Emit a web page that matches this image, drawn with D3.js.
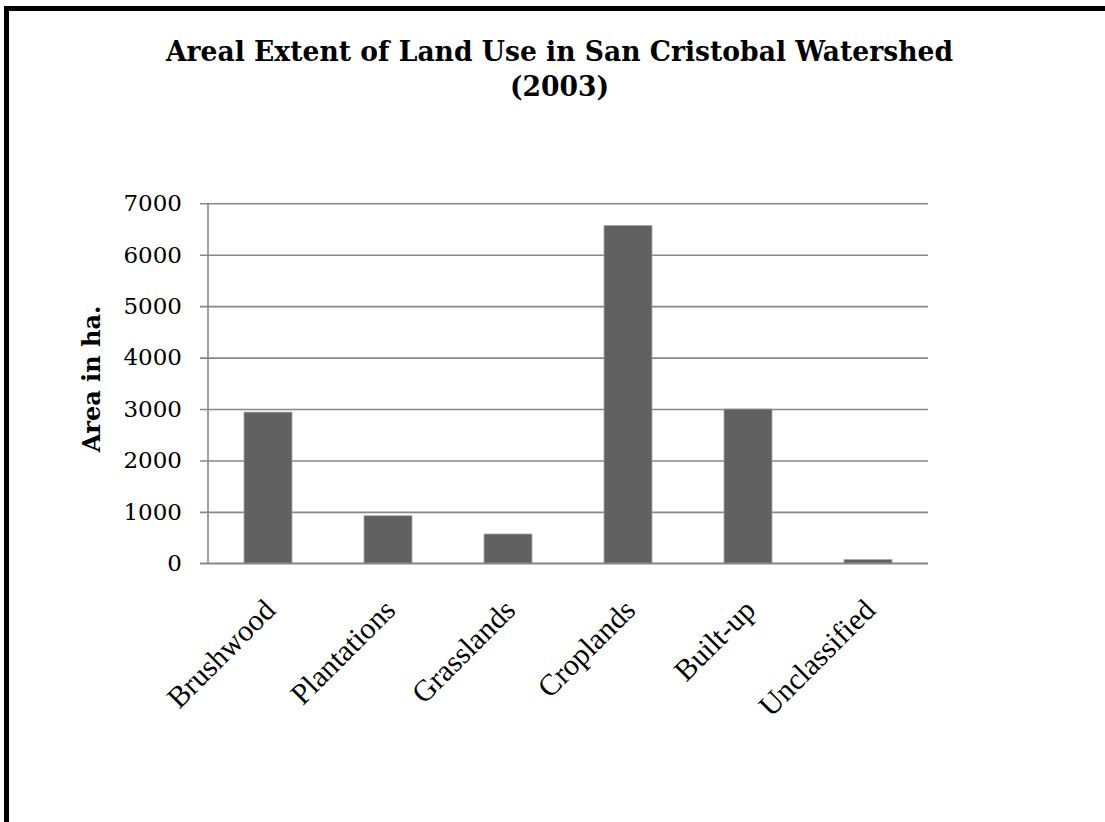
<!DOCTYPE html>
<html>
<head>
<meta charset="utf-8">
<script src="https://cdn.jsdelivr.net/npm/d3@7"></script>
<style>
  html, body { margin: 0; padding: 0; background: #fff; }
  svg { display: block; }
</style>
</head>
<body>
<svg id="chart" width="1105" height="822"></svg>
<script>
// Land use categories and their areal extent (hectares), 2003
const categories = ["Brushwood", "Plantations", "Grasslands", "Croplands", "Built-up", "Unclassified"];
const areaHa = [2940, 925, 570, 6570, 3000, 72];
const yTicks = [0, 1000, 2000, 3000, 4000, 5000, 6000, 7000];

const titleLines = ["Areal Extent of Land Use in San Cristobal Watershed", "(2003)"];
const yAxisTitle = "Area in ha.";

const serif = "'DejaVu Serif', 'Liberation Serif', serif";
const labelSerif = "'Liberation Serif', 'DejaVu Serif', serif";

const svg = d3.select("#chart");

// outer frame (top and left edges)
svg.append("path")
  .attr("d", "M6.5,822 L6.5,8.5 L1105,8.5")
  .attr("fill", "none")
  .attr("stroke", "#000")
  .attr("stroke-width", 5);

const plot = { left: 208, right: 928, top: 203.3, bottom: 563.3 };

const x = d3.scaleBand()
  .domain(categories)
  .range([plot.left, plot.right])
  .paddingInner(0.6)
  .paddingOuter(0.3);

const y = d3.scaleLinear()
  .domain([0, 7000])
  .range([plot.bottom, plot.top]);

// horizontal gridlines with short tick stubs to the left
const yAxis = d3.axisLeft(y)
  .tickValues(yTicks)
  .tickSize(-(plot.right - plot.left))
  .tickPadding(26)
  .tickFormat(d3.format("d"));

const gy = svg.append("g")
  .attr("transform", `translate(${plot.left},0)`)
  .call(yAxis);
gy.select(".domain").remove();
gy.selectAll(".tick line")
  .attr("x1", -8)
  .attr("stroke", "#878787")
  .attr("stroke-width", 1.6);
gy.selectAll(".tick text")
  .attr("font-family", serif)
  .attr("font-size", 23)
  .attr("fill", "#000");

// vertical axis line
svg.append("line")
  .attr("x1", plot.left).attr("x2", plot.left)
  .attr("y1", plot.top).attr("y2", plot.bottom)
  .attr("stroke", "#878787")
  .attr("stroke-width", 1.6);

// bars
svg.append("g")
  .selectAll("rect")
  .data(categories)
  .join("rect")
  .attr("x", d => x(d))
  .attr("width", x.bandwidth())
  .attr("y", (d, i) => y(areaHa[i]))
  .attr("height", (d, i) => y(0) - y(areaHa[i]))
  .attr("fill", "#616161")
  .attr("stroke", "#a6a6a6")
  .attr("stroke-width", 0.8);

// redraw baseline on top of bars
svg.append("line")
  .attr("x1", plot.left - 8).attr("x2", plot.right)
  .attr("y1", y(0)).attr("y2", y(0))
  .attr("stroke", "#878787")
  .attr("stroke-width", 1.6);

// category labels, rotated 45 degrees
svg.append("g")
  .selectAll("text")
  .data(categories)
  .join("text")
  .attr("transform", d => `translate(${x(d) + x.bandwidth() / 2 + 9},612) rotate(-45)`)
  .attr("text-anchor", "end")
  .attr("font-family", labelSerif)
  .attr("font-size", 30)
  .attr("fill", "#000")
  .text(d => d);

// y axis title
svg.append("text")
  .attr("transform", `translate(100,379) rotate(-90)`)
  .attr("text-anchor", "middle")
  .attr("font-family", serif)
  .attr("font-weight", "bold")
  .attr("font-size", 24)
  .attr("fill", "#000")
  .text(yAxisTitle);

// chart title, slightly condensed horizontally
svg.append("g")
  .attr("transform", "translate(559.5,0) scale(0.95,1)")
  .append("text")
  .attr("text-anchor", "middle")
  .attr("font-family", serif)
  .attr("font-weight", "bold")
  .attr("font-size", 28)
  .attr("fill", "#000")
  .selectAll("tspan")
  .data(titleLines)
  .join("tspan")
  .attr("x", 0)
  .attr("y", (d, i) => i === 0 ? 61 : 96)
  .text(d => d);
</script>
</body>
</html>
